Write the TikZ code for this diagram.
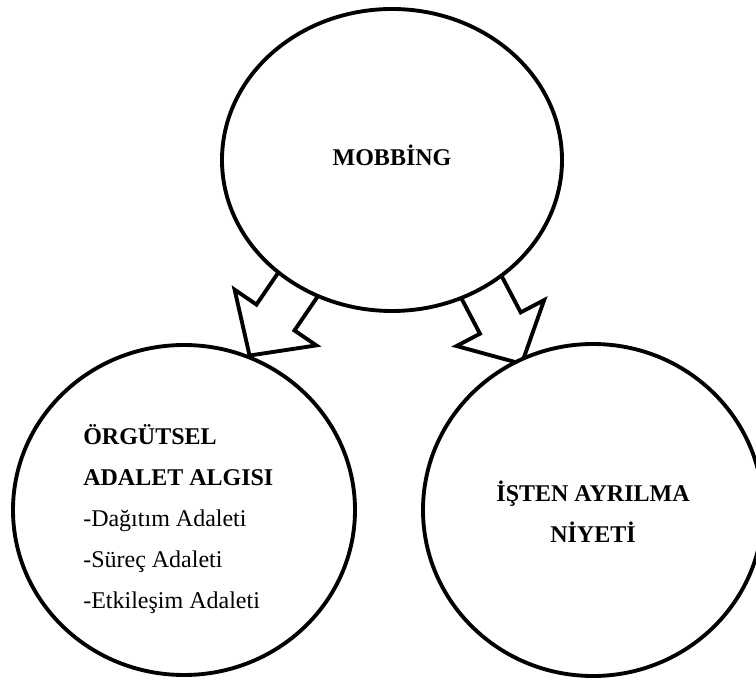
\documentclass[tikz,border=0pt]{standalone}
\usepackage{fontspec}
\setmainfont{Liberation Serif}
\usetikzlibrary{shapes.geometric,calc,backgrounds}

\tikzset{
  bubble/.style={draw, ellipse, line width=2.9pt, fill=white, inner sep=0pt},
  blockarr/.style={draw, line width=2.9pt, fill=white, line join=miter},
  headtxt/.style={inner sep=0pt, font=\fontsize{18pt}{21pt}\selectfont\bfseries},
  subtxt/.style={inner sep=0pt, font=\fontsize{18pt}{21pt}\selectfont},
}

% hollow block arrow from #1 (tail) to #2 (tip)
\newcommand{\blockarrow}[2]{%
  \coordinate (tail) at ($(#1)!-15pt!(#2)$);
  \coordinate (neck) at ($(#2)!34.5pt!(#1)$);
  \draw[blockarr] ($(tail)!17.25pt!90:(#2)$) -- ($(neck)!17.25pt!90:(#2)$)
    -- ($(neck)!37.1pt!90:(#2)$) -- (#2) -- ($(neck)!37.1pt!-90:(#2)$)
    -- ($(neck)!17.25pt!-90:(#2)$) -- ($(tail)!17.25pt!-90:(#2)$) -- cycle;
}

\begin{document}
\begin{tikzpicture}[x=0.75pt, y=-0.75pt]
\useasboundingbox (0,0) rectangle (756,680);

\node[bubble, minimum width=255pt, minimum height=226.5pt] (mob) at (392,160) {}; % Mobbing
\node[bubble, minimum width=256.5pt, minimum height=247.5pt] (adl) at (184,510) {}; % Adalet
\node[bubble, minimum width=255pt, minimum height=249pt] (ayr) at (593,510) {}; % Ayrilma

\node[headtxt, anchor=base] (mobtxt) at (392,166) {MOBBİNG};
\node[headtxt, anchor=base west] (adl1) at (83,445) {ÖRGÜTSEL};
\node[headtxt, anchor=base west] (adl2) at (83,485.5) {ADALET ALGISI};
\node[subtxt, anchor=base west] (adl3) at (83,526) {-Dağıtım Adaleti};
\node[subtxt, anchor=base west] (adl4) at (83,567) {-Süreç Adaleti};
\node[subtxt, anchor=base west] (adl5) at (83,608) {-Etkileşim Adaleti};
\node[headtxt, anchor=base] (ayr1) at (593,501) {İŞTEN AYRILMA};
\node[headtxt, anchor=base] (ayr2) at (593,542) {NİYETİ};

\coordinate (tipL) at (adl.67);
\coordinate (tipR) at ($(ayr.116)!4.5pt!(ayr.center)$);
\begin{pgfonlayer}{background}
\blockarrow{mob.-127}{tipL} % mob -> adl
\blockarrow{mob.-55}{tipR} % mob -> ayr
\end{pgfonlayer}
\end{tikzpicture}
\end{document}
